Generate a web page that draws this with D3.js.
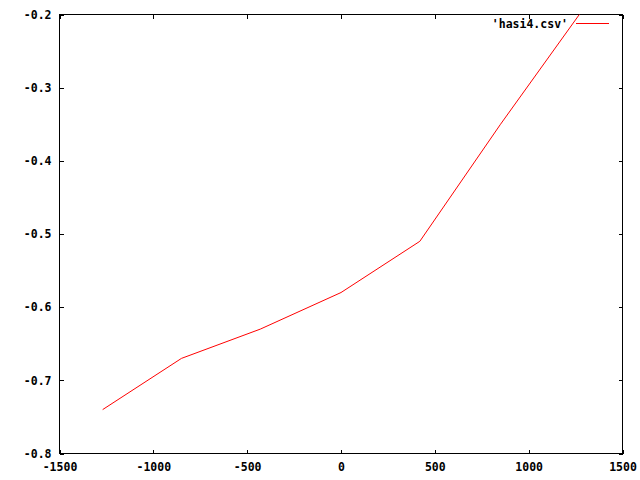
<!DOCTYPE html>
<html>
<head>
<meta charset="utf-8">
<script src="https://cdn.jsdelivr.net/npm/d3@7"></script>
<style>
  html, body { margin: 0; padding: 0; background: #fff; }
  svg { display: block; }
  text { font-family: "DejaVu Sans Mono", "Liberation Mono", monospace; font-size: 11.5px; font-weight: bold; fill: #000; }
</style>
</head>
<body>
<svg id="chart" width="640" height="480"></svg>
<script>
const xValues = [-1270, -850, -430, 0, 420, 850, 1270];
const yValues = [-0.74, -0.67, -0.63, -0.58, -0.51, -0.35, -0.20];
const xTicks = [-1500, -1000, -500, 0, 500, 1000, 1500];
const xTickLabels = ["-1500", "-1000", "-500", "0", "500", "1000", "1500"];
const yTicks = [-0.8, -0.7, -0.6, -0.5, -0.4, -0.3, -0.2];
const yTickLabels = ["-0.8", "-0.7", "-0.6", "-0.5", "-0.4", "-0.3", "-0.2"];
const seriesName = "'hasi4.csv'";

const svg = d3.select("#chart");
const mLeft = 59.5, mRight = 622.5, mTop = 14.5, mBottom = 453.5;

const x = d3.scaleLinear().domain([-1500, 1500]).range([mLeft, mRight]);
const y = d3.scaleLinear().domain([-0.8, -0.2]).range([mBottom, mTop]);

svg.append("rect").attr("width", 640).attr("height", 480).attr("fill", "#fff");

function styleAxis(g) {
  g.select(".domain").remove();
  g.selectAll("line").attr("stroke", "#000").attr("shape-rendering", "crispEdges");
}

svg.append("g").attr("transform", `translate(0,${mBottom})`)
  .call(d3.axisBottom(x).tickValues(xTicks).tickSize(-4).tickSizeOuter(0).tickPadding(9)
    .tickFormat((d, i) => xTickLabels[i]))
  .call(styleAxis);

svg.append("g").attr("transform", `translate(0,${mTop})`)
  .call(d3.axisTop(x).tickValues(xTicks).tickSize(-4).tickSizeOuter(0).tickFormat(""))
  .call(styleAxis);

svg.append("g").attr("transform", `translate(${mLeft},0)`)
  .call(d3.axisLeft(y).tickValues(yTicks).tickSize(-4).tickSizeOuter(0).tickPadding(8)
    .tickFormat((d, i) => yTickLabels[i]))
  .call(styleAxis);

svg.append("g").attr("transform", `translate(${mRight},0)`)
  .call(d3.axisRight(y).tickValues(yTicks).tickSize(-4).tickSizeOuter(0).tickFormat(""))
  .call(styleAxis);

svg.selectAll("g").attr("font-family", null).attr("font-size", null);

// border
svg.append("rect")
  .attr("x", mLeft).attr("y", mTop)
  .attr("width", mRight - mLeft).attr("height", mBottom - mTop)
  .attr("fill", "none").attr("stroke", "#000").attr("shape-rendering", "crispEdges");

svg.append("clipPath").attr("id", "plotclip")
  .append("rect").attr("x", mLeft).attr("y", mTop - 0.5)
  .attr("width", mRight - mLeft).attr("height", mBottom - mTop + 0.5);

const data = xValues.map((v, i) => [v, yValues[i]]);
svg.append("path")
  .datum(data)
  .attr("clip-path", "url(#plotclip)")
  .attr("fill", "none")
  .attr("stroke", "#ff0000")
  .attr("stroke-width", 1)
  .attr("d", d3.line().x(d => x(d[0])).y(d => y(d[1])));

// legend
const legY = 23.5;
svg.append("text")
  .attr("x", 568).attr("y", legY).attr("dy", "0.35em")
  .attr("text-anchor", "end")
  .text(seriesName);
svg.append("rect")
  .attr("x", 576).attr("y", legY - 0.5)
  .attr("width", 33).attr("height", 1)
  .attr("fill", "#ff0000");
</script>
</body>
</html>
